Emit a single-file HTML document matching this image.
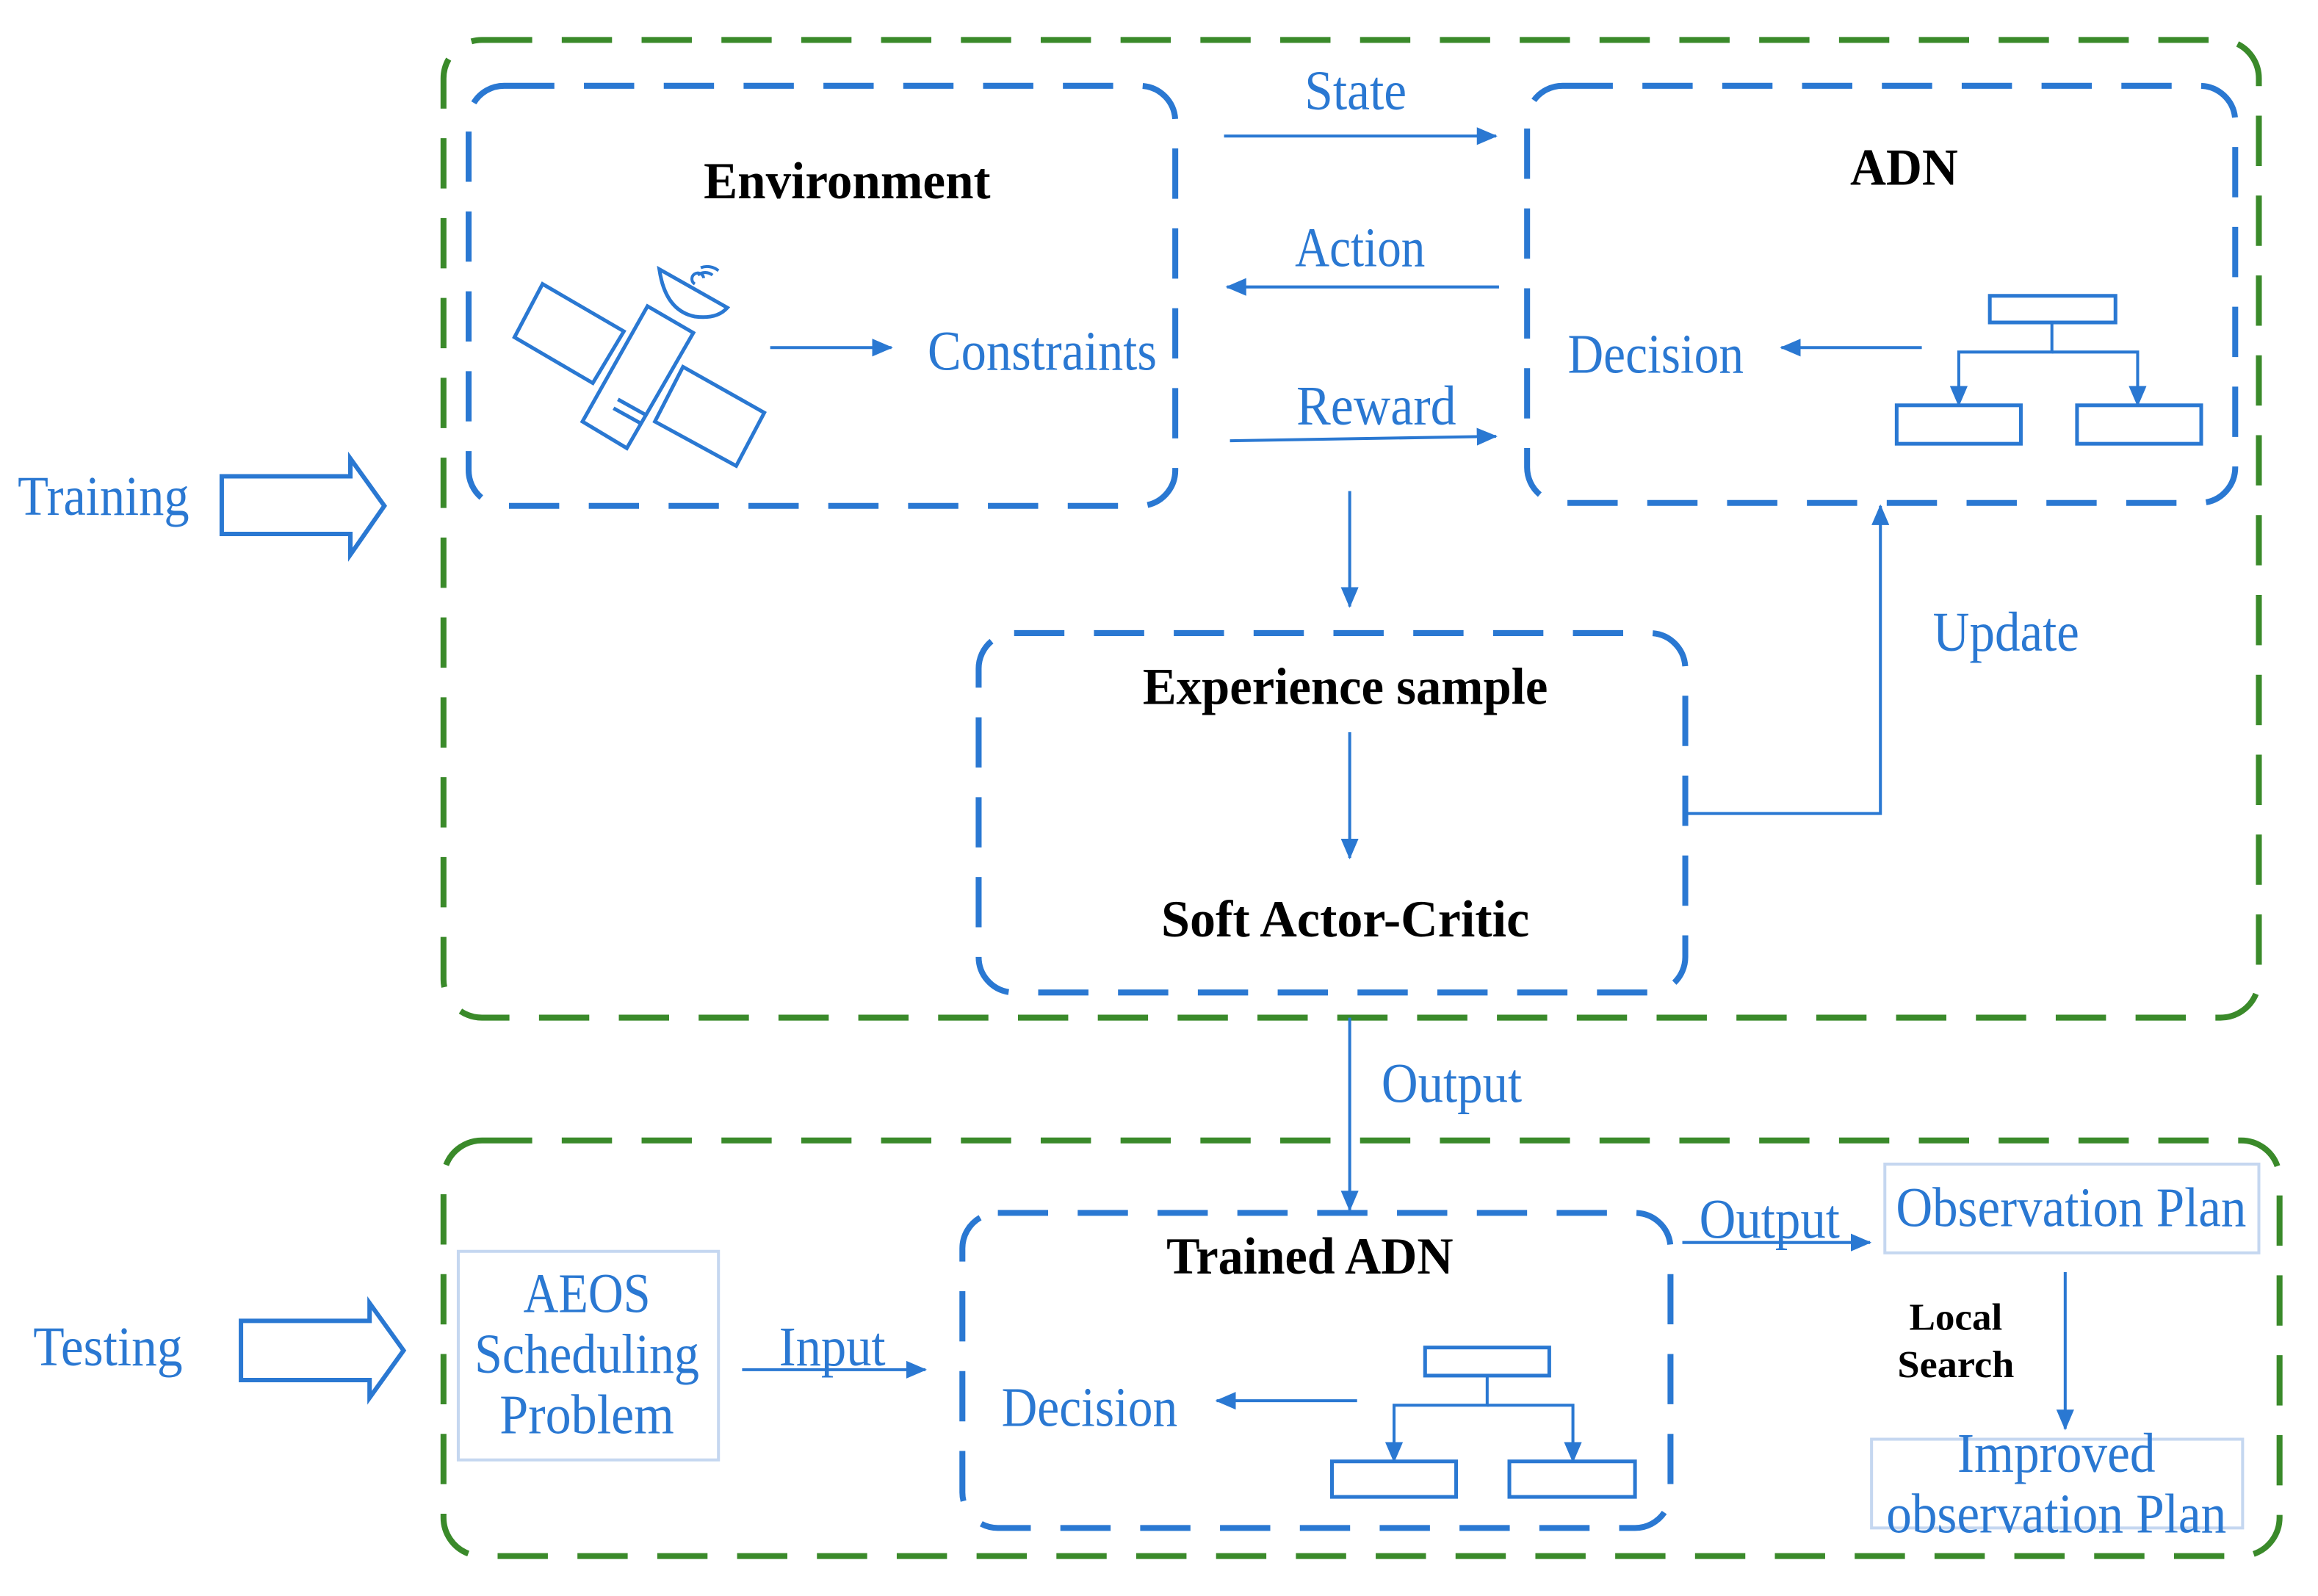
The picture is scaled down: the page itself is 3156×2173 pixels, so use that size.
<!DOCTYPE html>
<html><head><meta charset="utf-8"><style>html,body{margin:0;padding:0;background:#fff}svg{display:block}text{font-family:"Liberation Serif","Times New Roman",serif}</style></head>
<body>
<svg width="3156" height="2173" viewBox="0 0 1568 1079" preserveAspectRatio="none" xmlns="http://www.w3.org/2000/svg">
<defs>
<marker id="ah" markerWidth="14" markerHeight="12" refX="13" refY="6" orient="auto" markerUnits="userSpaceOnUse">
<path d="M0,0 L14,6 L0,12 z" fill="#2a78d2"/></marker>
</defs>
<g fill="none" stroke="#3a8a2a" stroke-width="4" stroke-dasharray="34 20">
<rect x="300" y="27" width="1228" height="661" rx="26"/>
<rect x="300" y="771" width="1242" height="281" rx="26"/>
</g>
<g fill="none" stroke="#2a78d2" stroke-width="4" stroke-dasharray="34 20">
<rect x="317" y="58" width="478" height="284" rx="24"/>
<rect x="1033" y="58" width="479" height="282" rx="24"/>
<rect x="662" y="428" width="478" height="243" rx="24"/>
<rect x="651" y="820" width="479" height="213" rx="24"/>
</g>
<g fill="none" stroke="#2a78d2" stroke-width="2" marker-end="url(#ah)">
<line x1="828" y1="92" x2="1012" y2="92"/>
<line x1="1014" y1="194" x2="830" y2="194"/>
<line x1="832" y1="298" x2="1012" y2="295"/>
<line x1="913" y1="332" x2="913" y2="410"/>
<line x1="521" y1="235" x2="603" y2="235"/>
<line x1="1300" y1="235" x2="1205" y2="235"/>
<line x1="913" y1="495" x2="913" y2="580"/>
<polyline points="1140,550 1272,550 1272,342"/>
<line x1="913" y1="688" x2="913" y2="818"/>
<line x1="502" y1="926" x2="626" y2="926"/>
<line x1="918" y1="947" x2="823" y2="947"/>
<line x1="1138" y1="840" x2="1265" y2="840"/>
<line x1="1397" y1="860" x2="1397" y2="966"/>
<polyline points="1388,218 1388,238 1325,238 1325,274"/>
<polyline points="1388,238 1446,238 1446,274"/>
<polyline points="1006,930 1006,950 943,950 943,988"/>
<polyline points="1006,950 1064,950 1064,988"/>
</g>
<g fill="none" stroke="#2a78d2" stroke-width="2.5">
<rect x="1346" y="200" width="85" height="18"/>
<rect x="1283" y="274" width="84" height="26"/>
<rect x="1405" y="274" width="84" height="26"/>
<rect x="964" y="911" width="84" height="19"/>
<rect x="901" y="988" width="84" height="24"/>
<rect x="1021" y="988" width="85" height="24"/>
<path d="M150,322 H237 V310 L260,342 L237,375 V361 H150 Z" stroke-width="3"/>
<path d="M163,893 H250 V881 L273,913 L250,945 V933 H163 Z" stroke-width="3"/>
<polygon points="367,192 422,224 401,259 348,228"/>
<polygon points="438,207 469,225 424,303 394,285"/>
<polygon points="462,248 517,279 498,315 443,285"/>
<line x1="418" y1="270" x2="436" y2="280"/><line x1="415" y1="276" x2="433" y2="286"/>
<path d="M446,182 Q450,210 470,214 Q485,216 492,208 Z"/>
<path d="M470,192 a4,4 0 1 1 6,-4 M472,186 a8,8 0 0 1 10,0 M474,181 a12,12 0 0 1 12,2" stroke-width="2"/>
</g>
<g fill="none" stroke="#c5d7f0" stroke-width="2">
<rect x="310" y="846" width="176" height="141"/>
<rect x="1275" y="787" width="253" height="60"/>
<rect x="1266" y="973" width="251" height="60"/>
</g>
<g fill="#2a78d2" font-size="38" text-anchor="middle">
<text x="917" y="74" textLength="69" lengthAdjust="spacingAndGlyphs">State</text>
<text x="920" y="180" textLength="88" lengthAdjust="spacingAndGlyphs">Action</text>
<text x="931" y="287" textLength="108" lengthAdjust="spacingAndGlyphs">Reward</text>
<text x="705" y="250" textLength="155" lengthAdjust="spacingAndGlyphs">Constraints</text>
<text x="1120" y="252" textLength="119" lengthAdjust="spacingAndGlyphs">Decision</text>
<text x="1357" y="440" textLength="99" lengthAdjust="spacingAndGlyphs">Update</text>
<text x="70" y="348" textLength="116" lengthAdjust="spacingAndGlyphs">Training</text>
<text x="73" y="923" textLength="101" lengthAdjust="spacingAndGlyphs">Testing</text>
<text x="982" y="745" textLength="95" lengthAdjust="spacingAndGlyphs">Output</text>
<text x="1197" y="837" textLength="95" lengthAdjust="spacingAndGlyphs">Output</text>
<text x="563" y="923" textLength="72" lengthAdjust="spacingAndGlyphs">Input</text>
<text x="397" y="887" textLength="86" lengthAdjust="spacingAndGlyphs">AEOS</text>
<text x="397" y="928" textLength="152" lengthAdjust="spacingAndGlyphs">Scheduling</text>
<text x="397" y="969" textLength="118" lengthAdjust="spacingAndGlyphs">Problem</text>
<text x="737" y="964" textLength="119" lengthAdjust="spacingAndGlyphs">Decision</text>
<text x="1401" y="829" textLength="237" lengthAdjust="spacingAndGlyphs">Observation Plan</text>
<text x="1391" y="995" textLength="134" lengthAdjust="spacingAndGlyphs">Improved</text>
<text x="1391" y="1036" textLength="230" lengthAdjust="spacingAndGlyphs">observation Plan</text>
</g>
<g fill="#000" font-weight="bold" font-size="35" text-anchor="middle">
<text x="573" y="134" textLength="194" lengthAdjust="spacingAndGlyphs">Environment</text>
<text x="1288" y="125" textLength="73" lengthAdjust="spacingAndGlyphs">ADN</text>
<text x="910" y="476" textLength="274" lengthAdjust="spacingAndGlyphs">Experience sample</text>
<text x="910" y="633" textLength="249" lengthAdjust="spacingAndGlyphs">Soft Actor-Critic</text>
<text x="886" y="861" textLength="194" lengthAdjust="spacingAndGlyphs">Trained ADN</text>
<text x="1323" y="899" font-size="26" textLength="63" lengthAdjust="spacingAndGlyphs">Local</text>
<text x="1323" y="931" font-size="26" textLength="79" lengthAdjust="spacingAndGlyphs">Search</text>
</g>
</svg>
</body></html>
